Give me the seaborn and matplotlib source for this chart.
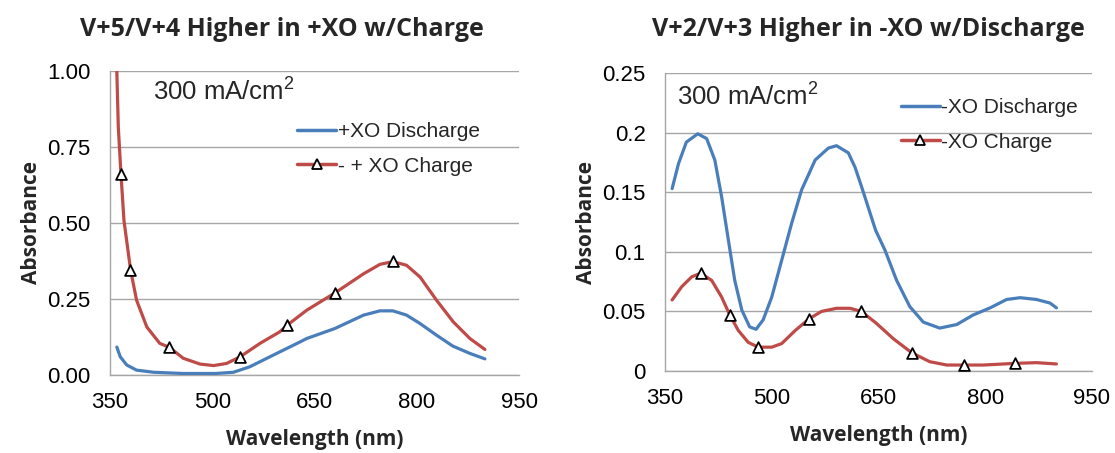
import numpy as np
import pandas as pd
import matplotlib
matplotlib.use("Agg")
import matplotlib.pyplot as plt
from matplotlib.lines import Line2D
import seaborn as sns

# ---------------- data ----------------
left_dis_wl = [360, 365, 374.5, 389, 414, 457, 505, 531, 555, 590, 629, 638.5, 680, 722, 746, 765, 785, 805, 829, 853, 878, 900]
left_dis_ab = [0.092, 0.060, 0.033, 0.016, 0.009, 0.005, 0.005, 0.009, 0.027, 0.066, 0.109, 0.120, 0.153, 0.197, 0.211, 0.211, 0.197, 0.169, 0.131, 0.095, 0.071, 0.053]

left_chg_wl = [360, 362.2, 366.1, 370.5, 380.3, 389, 404, 423, 437, 457.5, 482, 502, 521, 541, 570, 599, 610, 638.5, 680, 722, 746, 765, 785, 805, 829, 853.5, 878, 900]
left_chg_ab = [1.00, 0.814, 0.661, 0.508, 0.344, 0.246, 0.158, 0.104, 0.091, 0.055, 0.036, 0.031, 0.038, 0.060, 0.104, 0.142, 0.164, 0.213, 0.270, 0.333, 0.364, 0.373, 0.361, 0.322, 0.246, 0.175, 0.120, 0.084]
left_mk_wl = [366, 380, 437, 541, 610, 680, 765]
left_mk_ab = [0.661, 0.344, 0.091, 0.060, 0.164, 0.270, 0.375]

right_dis_wl = [360, 369, 380, 396, 408.5, 420, 429.6, 439, 448, 458, 469, 478, 488, 500, 514, 528, 542, 561, 579.5, 591, 607.6, 617, 626, 646, 659, 675.5, 694, 713, 736, 760, 783, 807, 830, 849, 872, 891, 900]
right_dis_ab = [0.153, 0.174, 0.192, 0.199, 0.195, 0.177, 0.146, 0.110, 0.076, 0.051, 0.037, 0.035, 0.043, 0.062, 0.093, 0.124, 0.152, 0.177, 0.187, 0.189, 0.183, 0.171, 0.155, 0.118, 0.1015, 0.076, 0.054, 0.041, 0.036, 0.039, 0.047, 0.053, 0.060, 0.0615, 0.060, 0.057, 0.053]

right_chg_wl = [360, 373.5, 387.5, 400, 415.6, 429.6, 441, 453, 467, 481, 500, 514, 533, 553, 570, 591, 610, 626, 647, 671, 696.5, 722, 746, 770, 797, 842, 872, 900]
right_chg_ab = [0.0596, 0.0707, 0.079, 0.082, 0.076, 0.062, 0.047, 0.034, 0.024, 0.020, 0.020, 0.023, 0.034, 0.044, 0.050, 0.0526, 0.0526, 0.050, 0.040, 0.027, 0.0154, 0.0078, 0.005, 0.005, 0.005, 0.0064, 0.007, 0.0059]
right_mk_wl = [400, 441, 481, 553, 626, 696.5, 770, 842]
right_mk_ab = [0.082, 0.047, 0.020, 0.044, 0.050, 0.0154, 0.005, 0.0064]

titles = ["V+5/V+4 Higher in +XO w/Charge", "V+2/V+3 Higher in -XO w/Discharge"]
legend_dis = ["+XO Discharge", "-XO Discharge"]
legend_chg = ["- + XO Charge", "-XO Charge"]
x_ticks = [350, 500, 650, 800, 950]
left_y_ticks = [0.0, 0.25, 0.50, 0.75, 1.00]
left_y_labels = ["0.00", "0.25", "0.50", "0.75", "1.00"]
right_y_ticks = [0, 0.05, 0.1, 0.15, 0.2, 0.25]
right_y_labels = ["0", "0.05", "0.1", "0.15", "0.2", "0.25"]
annot = "300 mA/cm$^2$"

# ---------------- style ----------------
sns.set_style("white")
plt.rcParams['font.family'] = ['Liberation Sans', 'DejaVu Sans']
plt.rcParams['mathtext.fontset'] = 'custom'
plt.rcParams['mathtext.rm'] = 'Liberation Sans'
BLUE = "#4A7EBB"
RED = "#BE4B48"
GRID = "#A6A6A6"
BOLD_FONT = ['Open Sans', 'DejaVu Sans']

W, H = 1115, 453
fig = plt.figure(figsize=(W / 100, H / 100), dpi=100)
axL = fig.add_axes([110 / W, (H - 375) / H, 409 / W, 304 / H])
axR = fig.add_axes([665 / W, (H - 371) / H, 427 / W, 298 / H])

panels = [
    (axL, left_dis_wl, left_dis_ab, left_chg_wl, left_chg_ab, left_mk_wl, left_mk_ab,
     left_y_ticks, left_y_labels, (0, 1.0)),
    (axR, right_dis_wl, right_dis_ab, right_chg_wl, right_chg_ab, right_mk_wl, right_mk_ab,
     right_y_ticks, right_y_labels, (0, 0.25)),
]
legend_pos = [(0.457, 0.832), (0.552, 0.916)]
annot_pos = [(0.104, 0.906), (0.029, 0.893)]
title_x = [282, 868]

for i, (ax, dwl, dab, cwl, cab, mwl, mab, yt, yl, ylim) in enumerate(panels):
    dfd = pd.DataFrame({"wl": dwl, "ab": dab})
    dfc = pd.DataFrame({"wl": cwl, "ab": cab})
    dfm = pd.DataFrame({"wl": mwl, "ab": mab})
    sns.lineplot(data=dfd, x="wl", y="ab", ax=ax, color=BLUE, lw=2.3, zorder=3)
    sns.lineplot(data=dfc, x="wl", y="ab", ax=ax, color=RED, lw=2.3, zorder=3)
    sns.scatterplot(data=dfm, x="wl", y="ab", ax=ax, marker="^", s=60,
                    facecolor="white", edgecolor="black", linewidth=1.3, zorder=4)
    ax.set_xlim(350, 950)
    ax.set_ylim(*ylim)
    ax.set_xticks(x_ticks)
    ax.set_yticks(yt)
    ax.set_yticklabels(yl)
    ax.tick_params(axis="both", labelsize=16, colors="black")
    ax.tick_params(axis="x", direction="out", length=5, color=GRID, pad=7)
    ax.tick_params(axis="y", length=0, pad=14)
    ax.grid(axis="y", color=GRID, lw=1)
    ax.grid(axis="x", visible=False)
    for s in ["top", "right"]:
        ax.spines[s].set_visible(False)
    for s in ["left", "bottom"]:
        ax.spines[s].set_color(GRID)
        ax.spines[s].set_linewidth(1)
    ax.set_xlabel("Wavelength (nm)", fontsize=15, fontweight="bold", family=BOLD_FONT, labelpad=12)
    ax.set_ylabel("Absorbance", fontsize=15, fontweight="bold", family=BOLD_FONT, labelpad=4)
    fig.text(title_x[i] / W, 1 - 36 / H, titles[i], fontsize=18, fontweight="bold",
             family=BOLD_FONT, ha="center", va="baseline")
    handles = [
        Line2D([], [], color=BLUE, lw=2.5),
        Line2D([], [], color=RED, lw=2.5, marker="^", markerfacecolor="white",
               markeredgecolor="black", markersize=7.5, markeredgewidth=1.3),
    ]
    ax.legend(handles, [legend_dis[i], legend_chg[i]], frameon=False, fontsize=15,
              loc="upper left", bbox_to_anchor=legend_pos[i], borderpad=0, borderaxespad=0,
              handlelength=1.9, handletextpad=0.05, labelspacing=0.75)
    ax.text(annot_pos[i][0], annot_pos[i][1], annot, transform=ax.transAxes,
            fontsize=18.5, va="baseline", ha="left")

fig.savefig("out.png", dpi=100)
